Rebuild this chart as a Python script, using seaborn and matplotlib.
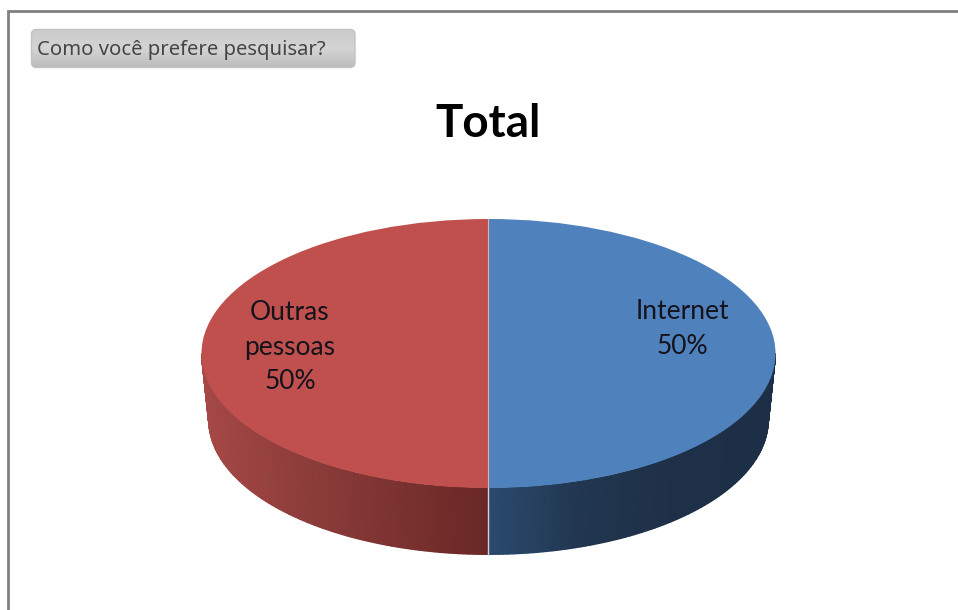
import numpy as np
import seaborn as sns
import matplotlib
matplotlib.use("Agg")
import matplotlib.pyplot as plt
from matplotlib.colors import LinearSegmentedColormap
from matplotlib.patches import FancyBboxPatch

# Survey result
categories = ["Internet", "Outras\npessoas"]
shares = [50, 50]
title_text = "Total"
filter_text = "Como você prefere pesquisar?"
slice_colors = ["#4F81BD", "#C0504D"]

sns.set_theme(style="white")
plt.rcParams["font.family"] = ["Lato", "DejaVu Sans"]

W, H = 958, 610
fig = plt.figure(figsize=(W / 100, H / 100), dpi=100, facecolor="white")

# Page layer in pixel coordinates: frame and filter button
page = fig.add_axes([0, 0, 1, 1], zorder=1)
page.set_xlim(0, W)
page.set_ylim(H, 0)
page.axis("off")
page.plot([8.5, 8.5, W], [H, 11, 11], color="#808080", lw=2, solid_joinstyle="miter")

button = FancyBboxPatch((31.5, 29.5), 323.5, 38, boxstyle="round,pad=0,rounding_size=5",
                        fc="none", ec="#c2c2c2", lw=1, zorder=2)
page.add_patch(button)
shade = LinearSegmentedColormap.from_list("button", ["#cbcbcb", "#d4d4d4", "#bcbcbc"])
fill = page.imshow(np.linspace(0, 1, 64)[:, None], extent=(31, 355, 68, 29), cmap=shade,
                   aspect="auto", zorder=1)
fill.set_clip_path(button)
page.set_xlim(0, W)
page.set_ylim(H, 0)
page.text(37, 50.5, filter_text, fontsize=14.6, family="Noto Sans", color="#454545",
          va="center", ha="left", zorder=3)

# Pie layer: unit radius squashed into an ellipse by the axes limits
cx, cy, rx, ry = 488.5, 353.5, 287.0, 134.5
depth = 66.5 / ry
taper = 0.975
ax = fig.add_axes([0, 0, 1, 1], zorder=2)
ax.patch.set_visible(False)

# Front wall of each slice, shaded with a quad mesh that follows the rim
fractions = np.array(shares) / sum(shares)
edges = 90 - 360 * np.concatenate([[0], np.cumsum(fractions)])
wall_ramps = [["#2B4A6F", "#21364F", "#1E3048", "#1D2F46"],
              ["#6A2826", "#7C3331", "#8E3E3B", "#A64846"]]
for start, stop, ramp in zip(edges[:-1], edges[1:], wall_ramps):
    # Only the part of the slice below the horizontal axis faces the viewer
    front_start, front_stop = min(start, 0), max(stop, -180)
    theta = np.radians(np.linspace(front_start, front_stop, 90))
    top_x, top_y = np.cos(theta), np.sin(theta)
    X = np.vstack([top_x, taper * top_x])
    Y = np.vstack([top_y, top_y - depth])
    C = np.vstack([np.abs(top_x), np.abs(top_x)])
    cmap = LinearSegmentedColormap.from_list("wall", ramp)
    ax.pcolormesh(X, Y, C, cmap=cmap, shading="gouraud", vmin=0, vmax=1, zorder=1)

wedges, _ = ax.pie(shares, colors=slice_colors, startangle=90, counterclock=False,
                   radius=1, wedgeprops={"linewidth": 0})
for w in wedges:
    w.set_zorder(2)
ax.set_aspect("auto")
ax.set_xlim(-cx / rx, (W - cx) / rx)
ax.set_ylim((cy - H) / ry, cy / ry)
ax.axis("off")

# Seam between the two slices
ax.plot([-0.001, -0.001], [1, -1], color="#d9b4b4", lw=0.8, zorder=3)
ax.plot([-0.001, -0.001], [-1, -1 - depth], color="#d8d0d4", lw=1.0, zorder=3)

# Slice labels and chart title
label_positions = [(682, 329), (290, 347)]
for name, share, (px, py) in zip(categories, shares, label_positions):
    ax.text(px, py, f"{name}\n{share}%", transform=page.transData, ha="center", va="center",
            fontsize=19, color="#14131c", linespacing=1.47, zorder=5)
ax.text(488, 124, title_text, transform=page.transData, ha="center", va="center",
        fontsize=33, fontweight="bold", color="black", zorder=5)

fig.savefig("out.png", dpi=100)
